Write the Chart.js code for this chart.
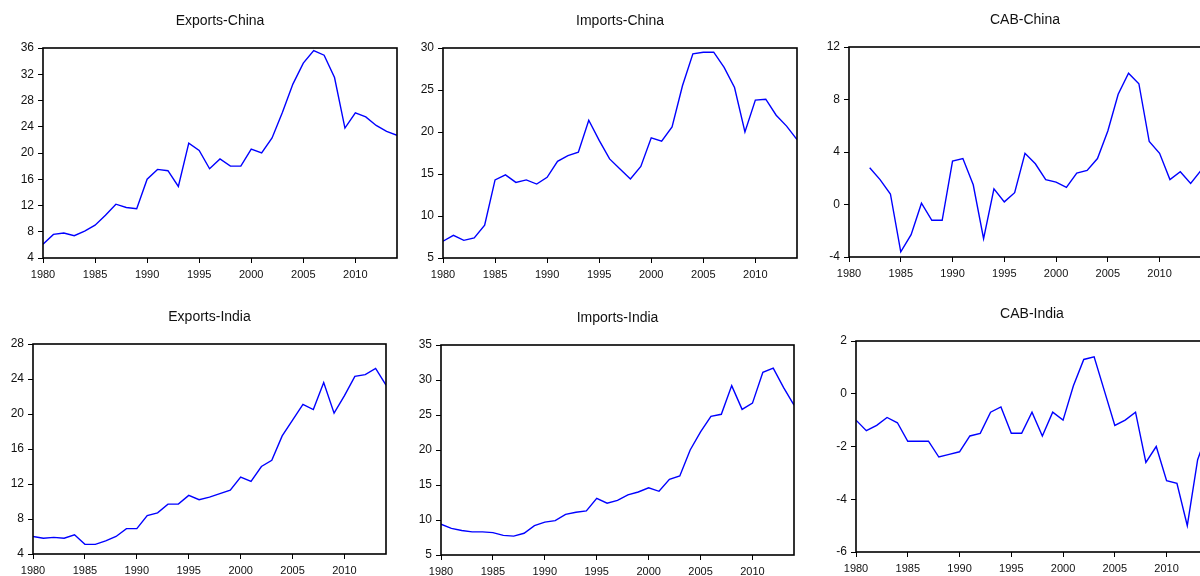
<!DOCTYPE html>
<html>
<head>
<meta charset="utf-8">
<script src="https://cdn.jsdelivr.net/npm/chart.js@4.4.1/dist/chart.umd.min.js"></script>
<style>
  html, body { margin: 0; padding: 0; background: #fff; overflow: hidden; width: 1200px; height: 576px; }
  canvas { position: absolute; }
</style>
</head>
<body>
<canvas id="expChina"></canvas>
<canvas id="impChina"></canvas>
<canvas id="cabChina"></canvas>
<canvas id="expIndia"></canvas>
<canvas id="impIndia"></canvas>
<canvas id="cabIndia"></canvas>
<script>
// years 1980..2014
const years = [1980, 1981, 1982, 1983, 1984, 1985, 1986, 1987, 1988, 1989,
  1990, 1991, 1992, 1993, 1994, 1995, 1996, 1997, 1998, 1999,
  2000, 2001, 2002, 2003, 2004, 2005, 2006, 2007, 2008, 2009,
  2010, 2011, 2012, 2013, 2014];

const exportsChina = [6.1, 7.6, 7.8, 7.4, 8.1, 9.0, 10.5, 12.2, 11.7, 11.5,
  16.0, 17.5, 17.3, 14.9, 21.5, 20.4, 17.6, 19.1, 18.0, 18.0,
  20.6, 20.0, 22.3, 26.2, 30.5, 33.7, 35.6, 34.9, 31.5, 23.8,
  26.1, 25.5, 24.2, 23.3, 22.7];

const importsChina = [7.0, 7.7, 7.1, 7.4, 8.9, 14.3, 14.9, 14.0, 14.3, 13.8,
  14.6, 16.5, 17.2, 17.6, 21.4, 19.0, 16.8, 15.6, 14.4, 15.9,
  19.3, 18.9, 20.6, 25.5, 29.3, 29.5, 29.5, 27.7, 25.3, 20.0,
  23.8, 23.9, 22.0, 20.7, 19.1];

const cabChina = [null, null, 2.8, 1.9, 0.8, -3.6, -2.3, 0.1, -1.2, -1.2,
  3.3, 3.5, 1.5, -2.6, 1.2, 0.2, 0.9, 3.9, 3.1, 1.9,
  1.7, 1.3, 2.4, 2.6, 3.5, 5.6, 8.4, 10.0, 9.2, 4.8,
  3.9, 1.9, 2.5, 1.6, 2.6];

const exportsIndia = [6.0, 5.8, 5.9, 5.8, 6.2, 5.1, 5.1, 5.5, 6.0, 6.9,
  6.9, 8.4, 8.7, 9.7, 9.7, 10.7, 10.2, 10.5, 10.9, 11.3,
  12.8, 12.3, 14.0, 14.7, 17.5, 19.3, 21.1, 20.5, 23.6, 20.1,
  22.1, 24.3, 24.5, 25.2, 23.3];

const importsIndia = [9.4, 8.8, 8.5, 8.3, 8.3, 8.2, 7.8, 7.7, 8.1, 9.2,
  9.7, 9.9, 10.8, 11.1, 11.3, 13.1, 12.4, 12.8, 13.6, 14.0,
  14.6, 14.1, 15.8, 16.3, 20.0, 22.6, 24.8, 25.1, 29.2, 25.8,
  26.7, 31.1, 31.7, 28.9, 26.4];

const cabIndia = [-1.0, -1.4, -1.2, -0.9, -1.1, -1.8, -1.8, -1.8, -2.4, -2.3,
  -2.2, -1.6, -1.5, -0.7, -0.5, -1.5, -1.5, -0.7, -1.6, -0.7,
  -1.0, 0.3, 1.3, 1.4, 0.1, -1.2, -1.0, -0.7, -2.6, -2.0,
  -3.3, -3.4, -5.0, -2.5, -1.4];

const FONT = "'Liberation Sans', Arial, sans-serif";

// black box round the plot area
const framePlugin = {
  id: 'frame',
  afterDraw(chart) {
    const { ctx, chartArea: a } = chart;
    ctx.save();
    ctx.strokeStyle = '#000';
    ctx.lineWidth = 1.6;
    ctx.strokeRect(a.left, a.top, a.right - a.left, a.bottom - a.top);
    ctx.restore();
  }
};

function makePanel(id, title, values, yMin, yMax, yStep, pos) {
  const el = document.getElementById(id);
  el.width = 40 + pos.w + 6;
  el.height = 40 + pos.h + 30;
  el.style.left = pos.x + 'px';
  el.style.top = pos.y + 'px';

  new Chart(el.getContext('2d'), {
    type: 'line',
    data: {
      datasets: [{
        data: years.map((yr, i) => ({ x: yr, y: values[i] })),
        borderColor: '#0000ff',
        borderWidth: 1.4,
        pointRadius: 0,
        tension: 0,
        fill: false
      }]
    },
    options: {
      responsive: false,
      animation: false,
      layout: { padding: { left: 0, right: 6, top: 0, bottom: 0 } },
      plugins: {
        legend: { display: false },
        tooltip: { enabled: false },
        title: {
          display: true,
          text: title,
          fullSize: false,
          color: '#111',
          font: { family: FONT, size: 14, weight: 'normal' },
          padding: { top: 5, bottom: 18.2 }
        }
      },
      scales: {
        x: {
          type: 'linear',
          min: 1980,
          max: 2014,
          afterFit: s => { s.height = 30; },
          border: { display: false },
          grid: { drawOnChartArea: false, tickLength: 5, color: '#000', lineWidth: 1 },
          ticks: {
            stepSize: 5,
            includeBounds: false,
            autoSkip: false,
            maxRotation: 0,
            padding: 5,
            color: '#111',
            font: { family: FONT, size: 11 },
            callback: v => String(v)
          }
        },
        y: {
          min: yMin,
          max: yMax,
          afterFit: s => { s.width = 40; },
          border: { display: false },
          grid: { drawOnChartArea: false, tickLength: 5, color: '#000', lineWidth: 1 },
          ticks: {
            stepSize: yStep,
            padding: 4,
            color: '#111',
            font: { family: FONT, size: 12 }
          }
        }
      }
    },
    plugins: [framePlugin]
  });
}

makePanel('expChina', 'Exports-China', exportsChina, 4, 36, 4, { x: 3, y: 8, w: 354, h: 210 });
makePanel('impChina', 'Imports-China', importsChina, 5, 30, 5, { x: 403, y: 8, w: 354, h: 210 });
makePanel('cabChina', 'CAB-China', cabChina, -4, 12, 4, { x: 809, y: 7, w: 352, h: 210 });
makePanel('expIndia', 'Exports-India', exportsIndia, 4, 28, 4, { x: -7, y: 304, w: 353, h: 210 });
makePanel('impIndia', 'Imports-India', importsIndia, 5, 35, 5, { x: 401, y: 305, w: 353, h: 210 });
makePanel('cabIndia', 'CAB-India', cabIndia, -6, 2, 2, { x: 816, y: 301, w: 352, h: 211 });
</script>
</body>
</html>
